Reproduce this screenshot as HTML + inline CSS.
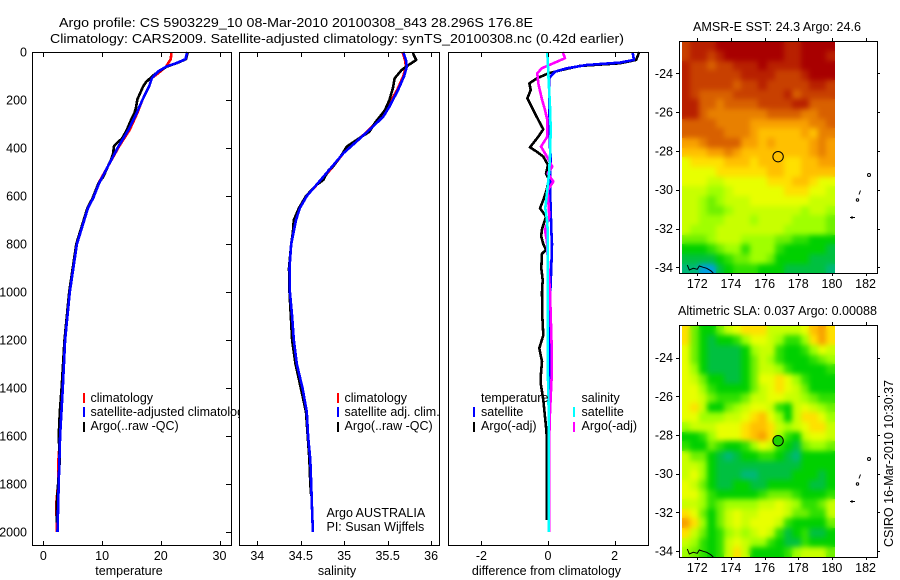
<!DOCTYPE html>
<html>
<head>
<meta charset="utf-8">
<title>Argo profile</title>
<style>
html,body{margin:0;padding:0;background:#fff;width:900px;height:580px;overflow:hidden}
svg{display:block}
text{font-family:"Liberation Sans",sans-serif;font-size:12.5px;fill:#000}
.line{fill:none;stroke-width:2.6;shape-rendering:crispEdges;stroke-linejoin:round}
.frame{fill:none;stroke:#000;stroke-width:1;shape-rendering:crispEdges}
.tick{stroke:#000;stroke-width:1;shape-rendering:crispEdges}
.bar{stroke-width:2;shape-rendering:crispEdges}
</style>
</head>
<body>
<svg id="chart" xmlns="http://www.w3.org/2000/svg" width="900" height="580" viewBox="0 0 900 580">
<defs>
<filter id="heat-soften" x="0" y="0" width="1" height="1" color-interpolation-filters="sRGB">
<feGaussianBlur in="SourceGraphic" stdDeviation="2.6" result="soft"/>
<feMerge><feMergeNode in="SourceGraphic"/><feMergeNode in="soft"/></feMerge>
</filter>
</defs>
<rect width="900" height="580" fill="#fff"/>
<text x="59" y="27" textLength="474" lengthAdjust="spacingAndGlyphs">Argo profile: CS 5903229_10 08-Mar-2010 20100308_843 28.296S 176.8E</text>
<text x="50" y="43" textLength="574" lengthAdjust="spacingAndGlyphs">Climatology: CARS2009. Satellite-adjusted climatology: synTS_20100308.nc (0.42d earlier)</text>
<g id="plots"></g>
<text x="693" y="31" textLength="168" lengthAdjust="spacingAndGlyphs">AMSR-E SST: 24.3 Argo: 24.6</text>
<text x="678" y="315" textLength="199" lengthAdjust="spacingAndGlyphs">Altimetric SLA: 0.037 Argo: 0.00088</text>
<text transform="translate(893,547) rotate(-90)" textLength="167" lengthAdjust="spacingAndGlyphs">CSIRO 16-Mar-2010 10:30:37</text>
</svg>
<script>
// ---------- profile data ----------
const depthTicks = [0,200,400,600,800,1000,1200,1400,1600,1800,2000];
const tempTicks = [0,10,20,30];
const salTicks = [34,34.5,35,35.5,36];
const salTickLabels = ["34","34.5","35","35.5","36"];
const diffTicks = [-2,0,2];
const lonTicks = [172,174,176,178,180,182];
const latTicks = [-24,-26,-28,-30,-32,-34];

const tempClimDepths = [0,30,60,80,108,143,198,254,324,393,476,546,608,650,800,1000,1200,1400,1600,1720,1800,1880,2000];
const tempClim = [21.8,21.7,20.9,20,18.5,18,16.9,16,14.7,12.9,11,9.4,8.4,7.6,5.7,4.5,3.7,3.3,2.85,2.5,2.5,2.2,2.3];
const tempSatDepths = [0,30,46,60,80,108,143,198,254,324,393,476,546,608,650,800,1000,1200,1400,1600,1800,2000];
const tempSat = [24.5,24.2,22.7,21,19.6,18.5,18,16.9,15.9,14.5,12.8,11,9.5,8.5,7.6,5.7,4.5,3.7,3.3,2.85,2.6,2.4];
const tempArgoDepths = [0,30,46,60,80,100,125,143,170,198,230,254,290,325,360,387,395,420,450,476,520,546,608,650,800,1000,1200,1400,1500,1600,1700,1800,1900,1960];
const tempArgo = [24.6,24.3,22.8,21.1,19.7,18.6,17.5,17,16.5,16,15.8,15.5,14.8,14.2,13.4,12.2,12,11.9,11.5,11,10.2,9.4,8.4,7.5,5.6,4.4,3.6,3.1,2.8,2.6,2.8,2.5,2.25,2.3];

const salClimDepths = [0,33,61,100,158,228,269,311,367,422,478,533,600,650,700,800,900,1000,1100,1200,1300,1400,1500,1600,1700,1800,1900,2000];
const salClim = [35.67,35.7,35.71,35.68,35.61,35.5,35.43,35.32,35.16,34.99,34.87,34.74,34.56,34.48,34.44,34.39,34.37,34.375,34.4,34.42,34.455,34.52,34.57,34.585,34.61,34.62,34.63,34.64];
const salSatDepths = [0,33,61,100,158,228,269,311,367,422,478,533,600,650,700,800,900,1000,1100,1200,1300,1400,1500,1600,1700,1800,1900,2000];
const salSat = [35.68,35.71,35.72,35.69,35.62,35.52,35.45,35.33,35.16,34.99,34.86,34.73,34.57,34.49,34.445,34.39,34.37,34.375,34.4,34.42,34.455,34.52,34.57,34.585,34.61,34.62,34.63,34.64];
const salArgoDepths = [0,12,33,54,75,110,151,200,242,297,332,367,394,429,478,492,533,554,600,650,700,750,800,900,1000,1100,1200,1300,1400,1500,1600,1700,1800,1850];
const salArgo = [35.79,35.8,35.83,35.74,35.66,35.58,35.56,35.52,35.47,35.35,35.29,35.14,35.03,34.97,34.87,34.82,34.76,34.68,34.56,34.48,34.42,34.41,34.39,34.365,34.37,34.385,34.4,34.44,34.5,34.56,34.58,34.6,34.61,34.62];

const diffTSatDepths = [0,33,44,54,68,82,96,110,200,400,436,560,742,800,900,1000,1100,1150,1300,2000];
const diffTSat = [2.54,2.58,2.16,1.16,0.56,0.21,0.11,0.04,0.04,0.06,0.08,0.06,0.1,0.12,0.1,0.07,0.05,0.04,0.03,0.04];
const diffTArgoDepths = [0,33,47,58,75,89,110,131,158,193,242,283,322,353,397,415,436,471,506,530,575,617,651,686,742,770,800,825,840,900,950,1000,1100,1180,1234,1290,1353,1380,1450,1561,1600,1800,1950];
const diffTArgo = [2.74,2.65,2.16,0.96,0.41,0.01,-0.34,-0.56,-0.52,-0.62,-0.44,-0.29,-0.14,-0.29,-0.54,-0.34,-0.14,0,-0.06,0.02,-0.04,-0.14,-0.24,-0.06,-0.19,-0.2,-0.14,-0.06,-0.18,-0.2,-0.16,-0.18,-0.17,-0.14,-0.26,-0.18,-0.22,-0.22,-0.14,-0.06,-0.04,-0.04,-0.04];
const diffSSatDepths = [0,89,228,322,436,506,575,651,700,742,1000,1300,1500,2000];
const diffSSat = [-0.02,0.01,0.06,0.08,0.06,0.03,-0.02,-0.08,-0.03,-0.01,-0.01,-0.01,0.02,0.02];
const diffSArgoDepths = [0,26,47,68,89,131,193,242,283,353,394,429,478,506,540,575,686,742,790,830,1000,1234,1350,1500,1600,2000];
const diffSArgo = [0.44,0.51,0.16,-0.19,-0.32,-0.29,-0.19,-0.09,-0.02,-0.02,-0.21,-0.06,0.13,-0.01,0.16,-0.01,0.04,-0.09,-0.03,-0.02,0.06,0.11,0.11,0.06,0.04,0.04];

// ---------- map data: colour level of each cell, rows north to south ----------
const sstLevels = [
[2,1,1,1,0,0,0,0,0,0,0,0,1,1,0,0,0,0],
[2,1,1,2,1,0,0,0,0,0,0,0,1,1,0,0,0,1],
[1,2,2,3,2,2,1,1,1,0,1,1,1,1,0,0,0,0],
[1,2,2,2,2,2,2,1,1,1,1,2,2,2,1,0,0,0],
[1,2,2,2,2,2,3,2,2,1,2,2,2,2,2,1,1,2],
[1,2,3,3,3,3,2,2,2,2,2,2,1,3,2,2,2,2],
[1,1,3,3,4,3,3,3,3,2,2,2,2,1,1,3,3,3],
[1,1,3,4,4,4,4,4,4,4,3,3,3,3,4,4,3,3],
[3,3,3,3,4,4,4,4,5,5,5,5,5,5,5,4,4,3],
[3,3,3,3,3,4,4,4,5,6,6,6,6,6,5,6,4,4],
[5,5,4,3,3,3,3,5,5,6,5,6,6,6,6,5,4,5],
[6,6,6,5,5,4,5,6,6,6,6,6,6,6,6,5,4,5],
[8,7,7,7,7,6,6,6,7,6,6,6,7,7,6,6,5,5],
[8,8,8,8,7,7,7,7,7,7,6,6,7,7,6,6,6,6],
[8,8,8,9,9,8,8,8,8,8,7,7,7,6,6,7,8,8],
[9,9,9,10,10,9,8,8,8,8,8,8,7,7,7,8,8,9],
[9,9,10,11,10,9,9,9,8,8,8,8,8,8,8,9,9,9],
[9,9,10,11,11,10,9,9,9,9,9,9,9,9,10,9,9,10],
[9,9,10,10,10,9,9,9,10,9,9,9,9,10,10,10,10,11],
[9,10,10,10,9,9,9,9,9,9,9,9,10,10,10,10,10,11],
[11,11,11,10,9,9,9,10,10,10,10,11,11,12,12,13,13,13],
[13,13,13,12,11,10,10,12,10,10,10,12,13,13,13,13,13,14],
[14,14,14,14,13,12,11,11,10,10,11,13,13,13,13,14,14,14],
[15,15,16,16,14,13,12,12,12,13,13,13,14,14,14,14,14,15]
];
const slaLevels = [
[7,11,13,13,11,9,8,7,7,7,9,9,9,9,8,6,5,7],
[7,11,13,14,13,13,12,10,8,8,9,10,12,12,10,7,5,7],
[8,11,13,14,14,14,14,13,10,9,9,12,13,13,12,10,8,9],
[8,11,13,14,14,14,14,13,11,9,10,12,13,13,13,12,11,10],
[8,10,13,14,14,14,14,13,11,9,9,10,12,13,13,13,13,12],
[8,9,11,13,13,14,14,13,11,8,8,7,8,10,12,13,13,13],
[8,8,10,12,13,13,13,13,11,9,8,7,8,9,11,13,13,13],
[8,8,9,11,12,12,12,11,9,9,8,8,9,9,10,11,12,12],
[8,7,9,13,13,11,10,9,8,8,9,12,13,9,8,9,10,11],
[8,8,10,10,10,9,9,8,7,6,8,10,13,9,7,7,8,10],
[10,9,9,9,8,8,8,7,6,6,7,9,10,9,8,7,7,9],
[13,13,12,10,8,8,8,7,6,5,7,10,12,13,9,8,8,9],
[12,13,13,11,12,13,13,12,10,8,9,12,13,14,11,10,10,11],
[9,11,11,13,14,15,14,13,13,12,12,13,14,15,13,13,13,13],
[9,9,10,13,14,14,14,14,14,14,14,14,14,14,13,13,13,13],
[9,8,10,13,14,14,14,15,15,14,14,14,14,13,13,13,14,13],
[8,9,11,13,14,14,13,13,14,14,13,13,13,13,13,14,14,13],
[8,8,10,12,13,13,13,13,13,12,11,11,11,12,13,13,13,12],
[9,9,10,12,11,10,10,10,10,9,9,8,9,10,12,12,11,9],
[7,8,11,13,11,9,8,9,9,8,8,8,9,11,11,12,12,9],
[5,7,10,13,11,9,8,9,8,8,8,9,12,13,13,13,13,11],
[7,9,11,13,12,10,9,10,9,8,9,12,14,13,12,14,14,13],
[9,10,12,13,12,9,8,9,10,10,12,13,14,14,12,13,13,13],
[10,11,12,13,12,9,7,9,13,13,13,13,12,10,9,9,9,11]
];
const argoLon = 176.8;
const argoLat = -28.296;

// ---------- drawing ----------
const NS = 'http://www.w3.org/2000/svg';
const root = document.getElementById('plots');
function mk(tag, parent, attrs) {
  const el = document.createElementNS(NS, tag);
  for (const k in attrs) el.setAttribute(k, attrs[k]);
  parent.appendChild(el);
  return el;
}
const yDepth = d => 52 + d * 0.24;
const xTemp = v => 43.4 + v * 5.87;
const xSal = v => 257.3 + (v - 34) * 86.9;
const xDiff = v => 548 + v * 33.3;
const xLon = v => 697.3 + (v - 172) * 16.83;
const sstLat = v => 73.3 + (-24 - v) * 19.4;
const slaLat = v => 357.7 + (-24 - v) * 19.33;
const heatColor = level => ['#a80000','#b82000','#c84000','#d86000','#e88000','#f8a000','#ffc000','#ffe000','#e8ff00','#c8ff00','#a0ff00','#70f000','#30e000','#00d000','#00c040','#00b878','#00a0e0'][level];

function drawLine(parent, xs, depths, xf, color, name) {
  const pts = depths.map((d, i) => xf(xs[i]).toFixed(1) + ',' + yDepth(d).toFixed(1)).join(' ');
  const el = mk('polyline', parent, {points: pts, class: 'line', stroke: color});
  
  
}
function drawText(parent, x, y, str, anchor, name) {
  const el = mk('text', parent, {x: x, y: y, 'text-anchor': anchor});
  el.textContent = str;
  
  
  return el;
}
function drawTick(parent, x1, y1, x2, y2, name) {
  const el = mk('line', parent, {x1: x1, y1: y1, x2: x2, y2: y2, class: 'tick'});
  
  
}
function drawBar(parent, x, y, color, name) {
  const el = mk('line', parent, {x1: x, y1: y, x2: x, y2: y + 10, class: 'bar', stroke: color});
  
  
}
function panel(name, x0, x1) {
  const g = mk('g', root, {});
  
  
  const bg = mk('rect', g, {x: x0, y: 52, width: x1 - x0, height: 493, fill: '#fff'});
  
  
  return g;
}
function finishPanel(g, name, x0, x1, ticks, labels, xf, title, titleX) {
  const fr = mk('rect', g, {x: x0 + .5, y: 52.5, width: x1 - x0, height: 493, class: 'frame'});
  
  
  ticks.forEach((t, i) => {
    const x = Math.round(xf(t)) + .5;
    drawTick(g, x, 52, x, 57, name + '-top-tick');
    drawTick(g, x, 541, x, 546, name + '-bottom-tick');
    drawText(g, xf(t), 560, labels[i], 'middle', name + '-x-tick-label');
  });
  drawText(g, titleX, 575, title, 'middle', name + '-x-axis-title');
}

// temperature panel
const p1 = panel('temperature-panel', 32, 231);
drawLine(p1, tempClim, tempClimDepths, xTemp, '#ff0000', 'temperature-climatology-line');
drawLine(p1, tempArgo, tempArgoDepths, xTemp, '#000000', 'temperature-argo-line');
drawLine(p1, tempSat, tempSatDepths, xTemp, '#0000ff', 'temperature-satellite-line');
finishPanel(p1, 'temperature-panel', 32, 231, tempTicks, tempTicks.map(String), xTemp, 'temperature', 129);
depthTicks.forEach(d => {
  const y = Math.round(yDepth(d)) + .5;
  drawTick(p1, 226, y, 231, y, 'depth-right-tick');
  drawText(p1, 27, yDepth(d) + 4.5, String(d), 'end', 'depth-tick-label');
});
drawBar(p1, 84, 393, '#ff0000', 'legend-climatology-swatch');
drawBar(p1, 84, 407, '#0000ff', 'legend-satellite-swatch');
drawBar(p1, 84, 422, '#000000', 'legend-argo-swatch');
drawText(p1, 90.5, 402, 'climatology', 'start', 'legend-climatology-label');
drawText(p1, 90.5, 416, 'satellite-adjusted climatology', 'start', 'legend-satellite-label');
drawText(p1, 90.5, 430, 'Argo(..raw -QC)', 'start', 'legend-argo-label');

// salinity panel
const p2 = panel('salinity-panel', 239, 439);
drawLine(p2, salClim, salClimDepths, xSal, '#ff0000', 'salinity-climatology-line');
drawLine(p2, salArgo, salArgoDepths, xSal, '#000000', 'salinity-argo-line');
drawLine(p2, salSat, salSatDepths, xSal, '#0000ff', 'salinity-satellite-line');
finishPanel(p2, 'salinity-panel', 239, 439, salTicks, salTickLabels, xSal, 'salinity', 337);
drawBar(p2, 338, 393, '#ff0000', 'salinity-legend-climatology-swatch');
drawBar(p2, 338, 407, '#0000ff', 'salinity-legend-satellite-swatch');
drawBar(p2, 338, 422, '#000000', 'salinity-legend-argo-swatch');
drawText(p2, 344.5, 402, 'climatology', 'start', 'salinity-legend-climatology-label');
drawText(p2, 344.5, 416, 'satellite adj. clim.', 'start', 'salinity-legend-satellite-label');
drawText(p2, 344.5, 430, 'Argo(..raw -QC)', 'start', 'salinity-legend-argo-label');
drawText(p2, 326.5, 517, 'Argo AUSTRALIA', 'start', 'argo-australia-label');
drawText(p2, 326.5, 531, 'PI: Susan Wijffels', 'start', 'principal-investigator-label');

// difference panel
const p3 = panel('difference-panel', 448, 648);
drawLine(p3, diffTArgo, diffTArgoDepths, xDiff, '#000000', 'difference-temperature-argo-line');
drawLine(p3, diffTSat, diffTSatDepths, xDiff, '#0000ff', 'difference-temperature-satellite-line');
drawLine(p3, diffSArgo, diffSArgoDepths, xDiff, '#ff00ff', 'difference-salinity-argo-line');
drawLine(p3, diffSSat, diffSSatDepths, xDiff, '#00ffff', 'difference-salinity-satellite-line');
finishPanel(p3, 'difference-panel', 448, 648, diffTicks, diffTicks.map(String), xDiff, 'difference from climatology', 546.5);
drawText(p3, 481, 402, 'temperature', 'start', 'difference-legend-temperature-heading');
drawText(p3, 581.5, 402, 'salinity', 'start', 'difference-legend-salinity-heading');
drawBar(p3, 474, 407, '#0000ff', 'difference-legend-temperature-satellite-swatch');
drawBar(p3, 474, 422, '#000000', 'difference-legend-temperature-argo-swatch');
drawBar(p3, 574, 407, '#00ffff', 'difference-legend-salinity-satellite-swatch');
drawBar(p3, 574, 422, '#ff00ff', 'difference-legend-salinity-argo-swatch');
drawText(p3, 481, 416, 'satellite', 'start', 'difference-legend-temperature-satellite-label');
drawText(p3, 481, 430, 'Argo(-adj)', 'start', 'difference-legend-temperature-argo-label');
drawText(p3, 581.5, 416, 'satellite', 'start', 'difference-legend-salinity-satellite-label');
drawText(p3, 581.5, 430, 'Argo(-adj)', 'start', 'difference-legend-salinity-argo-label');

// maps
function drawMap(name, levels, yLat, top, bottom, xLabelY, markerFill) {
  const g = mk('g', root, {});
  
  
  const cells = mk('g', g, {filter: 'url(#heat-soften)'});
  
  
  const lonStart = 171.09, lonStep = 0.5044, latStart = -22.35, latStep = 0.4983;
  levels.forEach((row, r) => {
    row.forEach((lev, c) => {
      const x0 = Math.round(xLon(lonStart + c * lonStep));
      const x1 = Math.round(xLon(lonStart + (c + 1) * lonStep));
      const y0 = Math.round(yLat(latStart - r * latStep));
      const y1 = Math.round(yLat(latStart - (r + 1) * latStep));
      const cell = mk('rect', cells, {x: x0, y: y0, width: x1 - x0, height: y1 - y0, fill: heatColor(lev), 'shape-rendering': 'crispEdges'});
      
      
    });
  });
  const off = top - 41;
  const coast = mk('polyline', g, {points: [[687.3,265],[689.3,270],[693.3,268.3],[697.3,269.3],[699.3,266],[703.3,267.3],[706.7,268.3],[710.7,270.7],[713.3,273]].map(p => p[0] + ',' + (p[1] + off)).join(' '), fill: 'none', stroke: '#000', 'stroke-width': 1});
  
  
  const isle1 = mk('circle', g, {cx: 869, cy: 175 + off, r: 1.5, fill: 'none', stroke: '#000', 'stroke-width': 1});
  
  
  const isle2 = mk('circle', g, {cx: 857.5, cy: 200 + off, r: 1.2, fill: 'none', stroke: '#000', 'stroke-width': 1});
  
  
  const isle3 = mk('path', g, {d: 'M860.5 ' + (190.5 + off) + ' L859 ' + (194.5 + off) + ' M850 ' + (217.5 + off) + ' H855 M852 ' + (216 + off) + ' V' + (219 + off), fill: 'none', stroke: '#000', 'stroke-width': 1});
  
  
  const marker = mk('circle', g, {cx: xLon(argoLon), cy: yLat(argoLat), r: 5.2, fill: markerFill, stroke: '#000', 'stroke-width': 1});
  
  
  const fr = mk('rect', g, {x: 679.5, y: top + .5, width: 198, height: bottom - top, class: 'frame'});
  
  
  lonTicks.forEach(t => {
    const x = Math.round(xLon(t)) + .5;
    drawTick(g, x, top - 3, x, top, name + '-top-tick');
    drawTick(g, x, bottom + 1, x, bottom + 3, name + '-bottom-tick');
    drawText(g, xLon(t), xLabelY, String(t), 'middle', name + '-longitude-label');
  });
  latTicks.forEach(t => {
    const y = Math.round(yLat(t)) + .5;
    drawTick(g, 676, y, 679, y, name + '-left-tick');
    drawTick(g, 878, y, 880, y, name + '-right-tick');
    drawText(g, 673, yLat(t) + 4.5, '-' + Math.abs(t), 'end', name + '-latitude-label');
  });
}
drawMap('sst-map', sstLevels, sstLat, 41, 273, 288, '#ffc000');
drawMap('sla-map', slaLevels, slaLat, 325, 557, 572, '#20d000');
</script>
</body>
</html>
